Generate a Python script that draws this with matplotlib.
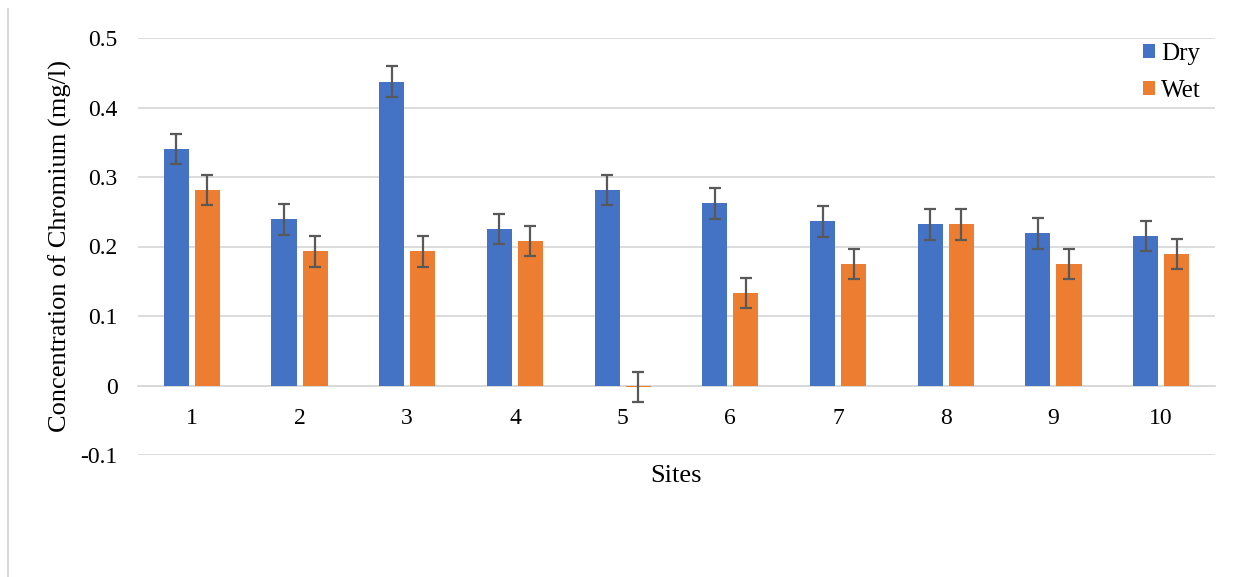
import numpy as np
import matplotlib.pyplot as plt
from matplotlib.lines import Line2D

plt.rcParams['font.family'] = ['Liberation Serif', 'DejaVu Serif']

sites = ['1', '2', '3', '4', '5', '6', '7', '8', '9', '10']
dry = [0.340, 0.239, 0.437, 0.225, 0.281, 0.262, 0.236, 0.232, 0.219, 0.215]
wet = [0.281, 0.193, 0.193, 0.208, -0.002, 0.133, 0.175, 0.232, 0.175, 0.189]
dry_err = [0.022] * 10
wet_err = [0.022] * 10

fig = plt.figure(figsize=(12.39, 5.77), dpi=100)
ax = fig.add_axes([138 / 1239, 1 - 455 / 577, 1077 / 1239, 417 / 577])

x = np.arange(len(sites))
w = 0.233
err_kw = dict(ecolor='#595959', elinewidth=1.6, capsize=4.3, capthick=1.6)
ax.bar(x - 0.144, dry, w, color='#4472C4', label='Dry', yerr=dry_err,
       error_kw=err_kw, zorder=3)
ax.bar(x + 0.144, wet, w, color='#ED7D31', label='Wet', yerr=wet_err,
       error_kw=err_kw, zorder=3)

ax.set_xlim(-0.5, len(sites) - 0.5)
ax.set_ylim(-0.1, 0.5)
ax.set_yticks([-0.1, 0, 0.1, 0.2, 0.3, 0.4, 0.5])
ax.set_yticklabels(['-0.1', '0', '0.1', '0.2', '0.3', '0.4', '0.5'])
ax.set_xticks(x)
ax.set_xticklabels(sites)
ax.grid(axis='y', color='#d9d9d9', linewidth=1.3, zorder=0)
for s in ['top', 'right', 'left']:
    ax.spines[s].set_visible(False)
ax.spines['bottom'].set_position(('data', 0))
ax.spines['bottom'].set_color('#d9d9d9')
ax.spines['bottom'].set_linewidth(1.3)
ax.tick_params(axis='both', length=0, labelsize=17)
ax.tick_params(axis='x', pad=16)
ax.tick_params(axis='y', pad=14.5)

ax.set_xlabel('Sites', fontsize=19)
ax.xaxis.set_label_coords(0.5, -0.024)
ax.set_ylabel('Concentration of Chromium (mg/l)', fontsize=19)
ax.yaxis.set_label_coords(-0.0613, 0.5)

ax.legend(loc='upper right', bbox_to_anchor=(1.001, 1.024), frameon=False,
          fontsize=18, handlelength=0.5, handleheight=0.5, handletextpad=0.25,
          labelspacing=0.6, borderaxespad=0.2)

fig.add_artist(Line2D([8 / 1239, 8 / 1239], [0, 1 - 9 / 577],
                      color='#d9d9d9', linewidth=1.5))

fig.savefig('out.png', dpi=100)
